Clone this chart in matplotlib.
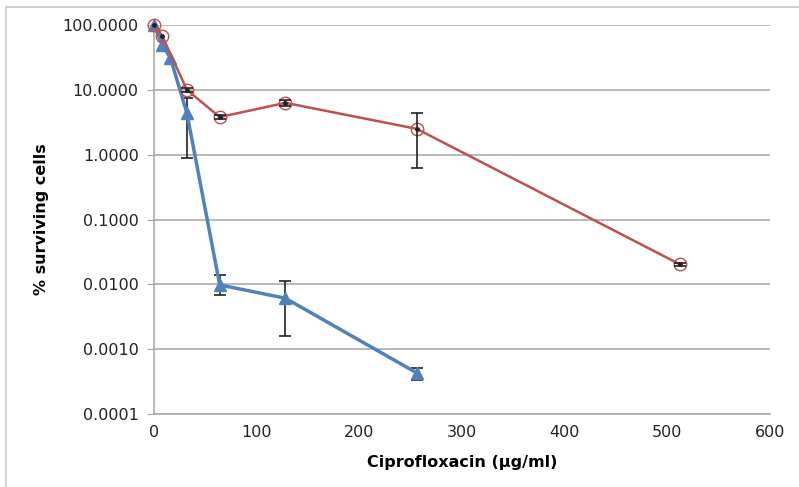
import matplotlib
matplotlib.use("Agg")
import matplotlib.pyplot as plt
from matplotlib.ticker import FixedLocator, FixedFormatter, NullLocator
from matplotlib.patches import Rectangle

# Data
red_x = [0, 8, 32, 64, 128, 256, 512]
red_y = [100.0, 68.0, 10.0, 3.8, 6.3, 2.5, 0.0204]
red_err_lo = [0.0, 0.0, 0.8, 0.3, 0.6, 1.88, 0.001]
red_err_hi = [0.0, 0.0, 0.8, 0.3, 0.6, 1.9, 0.001]

blue_x = [0, 8, 16, 32, 64, 128, 256]
blue_y = [100.0, 50.0, 31.0, 4.4, 0.0098, 0.0061, 0.00043]
blue_err_lo = [0.0, 0.0, 0.0, 3.5, 0.003, 0.0045, 0.0001]
blue_err_hi = [0.0, 0.0, 0.0, 3.0, 0.004, 0.005, 0.00008]

yticks = [0.0001, 0.001, 0.01, 0.1, 1, 10, 100]
ytick_labels = ["0.0001", "0.0010", "0.0100", "0.1000", "1.0000", "10.0000", "100.0000"]
xticks = [0, 100, 200, 300, 400, 500, 600]


def nonzero(xs, ys, lo, hi):
    idx = [i for i in range(len(xs)) if lo[i] > 0 or hi[i] > 0]
    return ([xs[i] for i in idx], [ys[i] for i in idx],
            [[lo[i] for i in idx], [hi[i] for i in idx]])


fig = plt.figure(figsize=(7.99, 4.87), dpi=100)
ax = fig.add_axes([154/799, 1-414/487, (770-154)/799, (414-25)/487])

fig.patches.append(Rectangle((6/799, -0.01), 1, 1 - 7/487 + 0.01, transform=fig.transFigure,
                             fill=False, edgecolor="#c8c8c8", linewidth=1.2, zorder=0))

red = "#C0504D"
blue = "#4F81BD"

rx, ry, rerr = nonzero(red_x, red_y, red_err_lo, red_err_hi)
ax.errorbar(rx, ry, yerr=rerr, fmt="none", ecolor="#222222",
            elinewidth=1.2, capsize=4, capthick=1.2, zorder=6)
ax.plot(red_x, red_y, color=red, lw=1.8, marker="o", markersize=9, markerfacecolor="none",
        markeredgecolor=red, markeredgewidth=1.0, zorder=5, clip_on=False)
ax.plot(red_x, red_y, linestyle="none", marker="o", markersize=2.5, color="#222222", zorder=7,
        clip_on=False)

bx, by, berr = nonzero(blue_x, blue_y, blue_err_lo, blue_err_hi)
ax.errorbar(bx, by, yerr=berr, fmt="none", ecolor="#222222",
            elinewidth=1.2, capsize=4, capthick=1.2, zorder=2)
ax.plot(blue_x, blue_y, color=blue, lw=2.5, marker="^", markersize=9,
        markerfacecolor=blue, markeredgecolor=blue, zorder=3, clip_on=False)

ax.set_yscale("log")
ax.set_ylim(0.0001, 100)
ax.set_xlim(0, 600)
ax.yaxis.set_major_locator(FixedLocator(yticks))
ax.yaxis.set_major_formatter(FixedFormatter(ytick_labels))
ax.yaxis.set_minor_locator(NullLocator())
ax.set_xticks(xticks)

ax.grid(axis="y", color="#a6a6a6", linewidth=1.1)
ax.set_axisbelow(True)
for s in ["top", "right"]:
    ax.spines[s].set_visible(False)
for s in ["left", "bottom"]:
    ax.spines[s].set_color("#a6a6a6")
    ax.spines[s].set_linewidth(1.1)

ax.tick_params(axis="y", length=5, color="#a6a6a6", labelsize=11.5, labelcolor="#222222", pad=6)
ax.tick_params(axis="x", length=0, labelsize=11.5, labelcolor="#222222", pad=8)

ax.set_ylabel("% surviving cells", fontsize=11.5, fontweight="bold", labelpad=10)
ax.set_xlabel("Ciprofloxacin (µg/ml)", fontsize=11.5, fontweight="bold", labelpad=11)

fig.savefig("out.png", dpi=100)
